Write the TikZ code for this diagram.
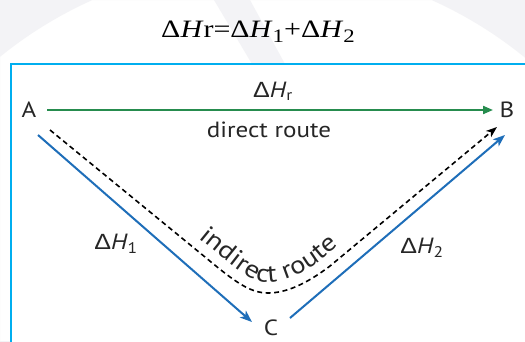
\documentclass[tikz,border=0pt]{standalone}
\usepackage{fontspec}
\setmainfont{Liberation Serif}
\newfontfamily\lab[FakeStretch=1.14]{PT Sans}
\newfontfamily\grk[FakeStretch=1.14]{Liberation Sans}
\newfontfamily\ttl[FakeStretch=1.2]{Liberation Serif}
\usetikzlibrary{arrows.meta,decorations.text}
\definecolor{grn}{RGB}{38,140,78}
\definecolor{blu}{RGB}{30,110,185}
\definecolor{cyn}{RGB}{0,174,239}
\definecolor{wm}{RGB}{243,243,246}
\newcommand{\Dl}{{\grk Δ}}
\newcommand{\routefont}{\lab\fontsize{25}{28}\selectfont\color{black!85}}
\tikzset{
  lbl/.style={inner sep=0pt, font=\lab\fontsize{22}{25}\selectfont, text=black!85},
  grnarrow/.style={draw=grn, line width=2pt, -{Triangle[length=10pt,width=8pt]}},
  bluarrow/.style={draw=blu, line width=2pt, -{Stealth[length=12pt,width=9pt,inset=3pt]}},
  dasharrow/.style={draw=black, line width=1.6pt, dash pattern=on 5pt off 3.5pt, -{Stealth[length=11pt,width=8pt,inset=3pt]}},
}
\begin{document}
\begin{tikzpicture}[x=1pt,y=-1pt]
\useasboundingbox (0,0) rectangle (525,341);
\clip (0,0) rectangle (525,341);
\fill[white] (0,0) rectangle (525,341);
% faint watermark
\fill[wm, even odd rule] (0,0) rectangle (525,341) (262,380) circle[radius=416];
\fill[wm] (214,0) -- (250,0) -- (285,64) -- (252,64) -- cycle;
% frame
\fill[white] (11,64) rectangle (540,400);
\draw[cyn, line width=2.6pt] (11,400) -- (11,64) -- (540,64);
% title
\node[inner sep=0pt, anchor=base, font=\ttl\fontsize{25}{28}\selectfont] (title) at (258,37)
  {Δ\textit{H}r=Δ\textit{H}\raisebox{-0.22em}{\fontsize{19}{20}\selectfont 1}+Δ\textit{H}\raisebox{-0.22em}{\fontsize{19}{20}\selectfont 2}};
% nodes
\node[lbl] (A) at (29,110) {A};
\node[lbl] (B) at (507,110) {B};
\node[lbl] (C) at (271,328) {C};
% arrows
\draw[grnarrow] ([xshift=18pt]A.center) -- ([xshift=-14pt]B.center);
\draw[bluarrow] ([shift={(9,25)}]A.center) -- ([shift={(-19,-6)}]C.center);
\draw[bluarrow] ([shift={(19,-10)}]C.center) -- ([shift={(-2,25)}]B.center);
\draw[dasharrow] ([shift={(21,20)}]A.center) -- (205,257)
  .. controls (235,282) and (250,293) .. (268,293)
  .. controls (285,293) and (305,285) .. (330,266) -- ([shift={(-10,17)}]B.center);
% text along a path parallel to the dashed route
\path[decorate, decoration={text along path,
  text align={left indent=184pt},
  text={|\routefont|indirect route}}]
  ([shift={(27,12)}]A.center) -- (211,248)
  .. controls (239,271) and (252,282) .. (268,282)
  .. controls (283,282) and (300,276) .. (324,258) -- ([shift={(-16,9)}]B.center);
% labels
\node[lbl] (dHr) at (273,91) {\Dl\textit{H}\textsubscript{r}};
\node[lbl] (direct) at (269,130) {direct route};
\node[lbl] (dH1) at (116,244) {\Dl\textit{H}\textsubscript{1}};
\node[lbl] (dH2) at (422,248) {\Dl\textit{H}\textsubscript{2}};
\end{tikzpicture}
\end{document}
